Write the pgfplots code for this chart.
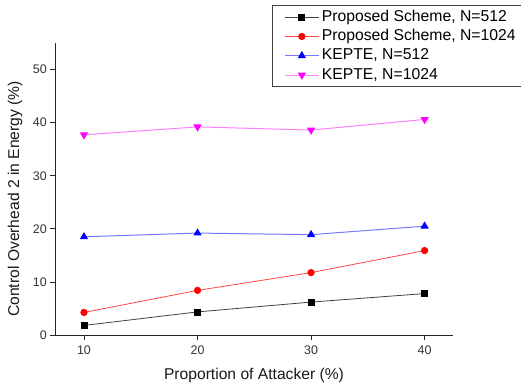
\documentclass[border=0pt]{standalone}
\usepackage{pgfplots}
\pgfplotsset{compat=1.18}
\usepackage{fontspec}
\setmainfont{Liberation Sans}
\definecolor{mag}{RGB}{255,0,255}
\definecolor{magline}{RGB}{255,128,255}
\definecolor{blueline}{RGB}{120,120,255}
\definecolor{redline}{RGB}{255,70,70}
\begin{document}
\begin{tikzpicture}
\path[use as bounding box] (0,0) rectangle (521bp,389bp);
\begin{axis}[
  at={(55bp,54bp)}, anchor=south west,
  scale only axis, width=398bp, height=292bp,
  xmin=7.45, xmax=42.5, ymin=0, ymax=55,
  axis lines*=left,
  axis line style={black!85, line width=0.8bp},
  tick align=outside, tick pos=left,
  major tick length=4.7bp,
  tick style={black!85, line width=0.8bp},
  xtick={10,20,30,40}, ytick={0,10,20,30,40,50},
  /pgf/number format/assume math mode=true,
  ticklabel style={font=\fontsize{12.5}{14}\selectfont, text=black!80},
  xticklabel style={yshift=-2.5bp},
  xlabel={Proportion of Attacker (\%)},
  ylabel={Control Overhead 2 in Energy (\%)},
  label style={font=\fontsize{15.7}{18}\selectfont, text=black!90},
  xlabel style={at={(axis description cs:0.5,-0.137)}, anchor=center},
  ylabel style={at={(axis description cs:-0.1005,0.466)}, anchor=center},
  legend style={at={(axis description cs:0.545,1.130)}, anchor=north west,
    draw=black!75, line width=0.9bp, inner xsep=12bp, inner ysep=2bp,
    font=\fontsize{15.8}{18}\selectfont,
    nodes={inner xsep=2.5bp, inner ysep=1.65bp, text height=12bp, text depth=4bp},
    column sep=0pt},
  legend cell align=left,
  legend image code/.code={\draw[mark repeat=2,mark phase=2] plot coordinates {(0bp,0bp) (17bp,0bp) (34bp,0bp)};},
]
\addplot[color=black!75, line width=0.8bp, mark=square*, mark size=3bp, mark options={fill=black, draw=black, solid}]
  coordinates {(10,1.8) (20,4.35) (30,6.2) (40,7.8)};
\addlegendentry{Proposed Scheme, N=512}
\addplot[color=redline, line width=0.8bp, mark=*, mark size=3.2bp, mark options={fill=red, draw=red, solid}]
  coordinates {(10,4.25) (20,8.4) (30,11.75) (40,15.9)};
\addlegendentry{Proposed Scheme, N=1024}
\addplot[color=blueline, line width=1bp, mark=triangle*, mark size=3.8bp, mark options={fill=blue, draw=blue, solid}]
  coordinates {(10,18.5) (20,19.2) (30,18.9) (40,20.5)};
\addlegendentry{KEPTE, N=512}
\addplot[color=magline, line width=1bp, mark=triangle*, mark size=3.8bp, mark options={fill=mag, draw=mag, solid, rotate=180}]
  coordinates {(10,37.7) (20,39.2) (30,38.6) (40,40.6)};
\addlegendentry{KEPTE, N=1024}
\end{axis}
\end{tikzpicture}
\end{document}
